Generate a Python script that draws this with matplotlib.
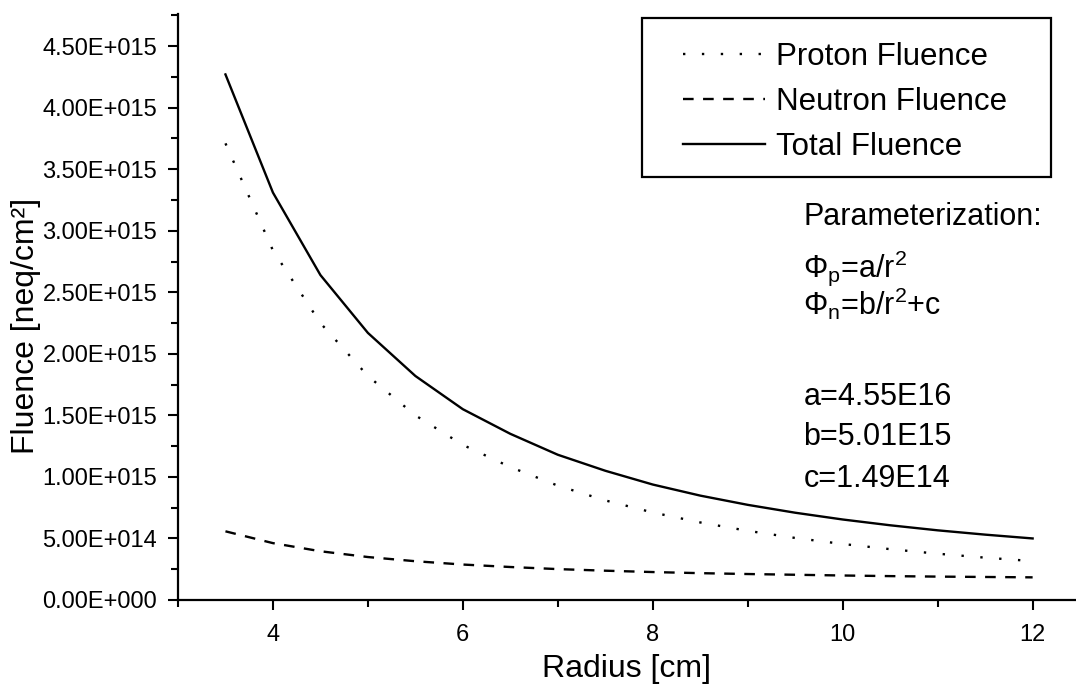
import matplotlib
matplotlib.use("Agg")
import matplotlib.pyplot as plt
from matplotlib.patches import Rectangle
from matplotlib.ticker import MultipleLocator

plt.rcParams['font.family'] = ['Liberation Sans', 'DejaVu Sans']
plt.rcParams['mathtext.fontset'] = 'custom'
plt.rcParams['mathtext.rm'] = 'Liberation Sans'
plt.rcParams['mathtext.it'] = 'Liberation Sans:italic'

# radius [cm]
radius = [3.5, 4.0, 4.5, 5.0, 5.5, 6.0, 6.5, 7.0, 7.5, 8.0,
          8.5, 9.0, 9.5, 10.0, 10.5, 11.0, 11.5, 12.0]
# fluences [neq/cm^2]
proton = [3.71e15, 2.84e15, 2.25e15, 1.82e15, 1.50e15, 1.26e15, 1.08e15, 9.29e14, 8.09e14,
          7.11e14, 6.30e14, 5.62e14, 5.04e14, 4.55e14, 4.13e14, 3.76e14, 3.44e14, 3.16e14]
neutron = [5.58e14, 4.62e14, 3.96e14, 3.49e14, 3.15e14, 2.88e14, 2.68e14, 2.51e14, 2.38e14,
           2.27e14, 2.18e14, 2.11e14, 2.05e14, 1.99e14, 1.94e14, 1.90e14, 1.87e14, 1.84e14]
total = [4.27e15, 3.31e15, 2.64e15, 2.17e15, 1.82e15, 1.55e15, 1.35e15, 1.18e15, 1.05e15,
         9.38e14, 8.48e14, 7.73e14, 7.09e14, 6.54e14, 6.07e14, 5.66e14, 5.31e14, 5.00e14]

param_lines = ["Parameterization:",
               r"$\Phi_{\mathrm{p}}$=a/r$^{2}$",
               r"$\Phi_{\mathrm{n}}$=b/r$^{2}$+c",
               "a=4.55E16", "b=5.01E15", "c=1.49E14"]
param_y = [0.640, 0.551, 0.486, 0.333, 0.265, 0.193]


def sci_label(v, pos):
    # Origin-style 4.50E+015
    if v <= 0:
        return "0.00E+000"
    e = len(str(int(round(v)))) - 1
    return "%.2fE+%03d" % (v / 10 ** e, e)


fig = plt.figure(figsize=(10.76, 6.95), dpi=100)
ax = fig.add_axes([0.1654, 0.1367, 0.834, 0.843])

ax.plot(radius, proton, color='black', lw=1.7, linestyle=(0, (1, 7)), label='Proton Fluence')
ax.plot(radius, neutron, color='black', lw=1.7, linestyle=(0, (4.5, 4)), label='Neutron Fluence')
ax.plot(radius, total, color='black', lw=1.7, label='Total Fluence')

ax.set_xlim(3.0, 12.45)
ax.set_ylim(0, 4.76e15)
ax.xaxis.set_major_locator(MultipleLocator(2))
ax.xaxis.set_minor_locator(MultipleLocator(1))
ax.yaxis.set_major_locator(MultipleLocator(5e14))
ax.yaxis.set_minor_locator(MultipleLocator(2.5e14))
ax.yaxis.set_major_formatter(plt.FuncFormatter(sci_label))

for s in ['top', 'right']:
    ax.spines[s].set_visible(False)
for s in ['left', 'bottom']:
    ax.spines[s].set_linewidth(1.6)
ax.tick_params(which='major', direction='out', length=7, width=1.5, labelsize=17)
ax.tick_params(which='minor', direction='out', length=5, width=1.5)
ax.tick_params(axis='y', pad=8)
ax.tick_params(axis='x', pad=10)

ax.set_xlabel("Radius [cm]", fontsize=23, labelpad=6)
ax.set_ylabel("Fluence [neq/cm²]", fontsize=23)
ax.yaxis.set_label_coords(-0.153, 0.468)

# legend box drawn separately so the margins match
ax.add_patch(Rectangle((0.517, 0.722), 0.456, 0.271, transform=ax.transAxes,
                       facecolor='white', edgecolor='black', lw=1.6, clip_on=False, zorder=4))
leg = ax.legend(loc='upper left', bbox_to_anchor=(0.563, 0.953), fontsize=22.5,
                frameon=False, handlelength=2.62, labelspacing=0.48,
                handletextpad=0.35, borderpad=0, borderaxespad=0)
leg.set_zorder(5)

for txt, yy in zip(param_lines, param_y):
    ax.text(0.697, yy, txt, transform=ax.transAxes, fontsize=22, va='baseline', ha='left')

fig.savefig("out.png", dpi=100)
